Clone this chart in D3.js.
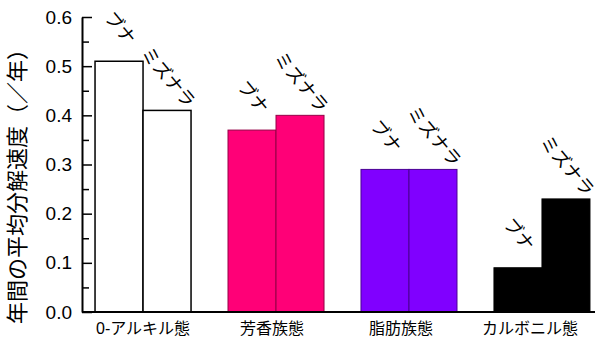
<!DOCTYPE html>
<html>
<head>
<meta charset="utf-8">
<script src="https://cdn.jsdelivr.net/npm/d3@7"></script>
<style>
  body { margin: 0; background: #fff; }
  text { font-family: Arial, "Liberation Sans", "Noto Sans CJK JP", sans-serif; }
</style>
</head>
<body>
<div id="chart-area"></div>
<script>
// data
var categories = ["0-アルキル態", "芳香族態", "脂肪族態", "カルボニル態"];
var seriesNames = ["ブナ", "ミズナラ"];
var buna = [0.51, 0.37, 0.29, 0.09];
var mizunara = [0.41, 0.40, 0.29, 0.23];
var groupColors = ["#ffffff", "#ff0077", "#8000ff", "#000000"];
var yTicks = [0, 0.1, 0.2, 0.3, 0.4, 0.5, 0.6];
var yMinorTicks = [0.05, 0.15, 0.25, 0.35, 0.45, 0.55];

var margin = {left: 82, right: 5, top: 17, bottom: 52};
var width = 600 - margin.left - margin.right;
var height = 364 - margin.top - margin.bottom;

var svg = d3.select("#chart-area")
  .append("svg")
    .attr("width", 600)
    .attr("height", 364);

var g = svg.append("g")
    .attr("transform", "translate(" + margin.left + ", " + margin.top + ")");

var x = d3.scaleBand()
    .domain(categories)
    .range([0, 521])
    .paddingInner(0.278)
    .paddingOuter(0.098);

var xSub = d3.scaleBand()
    .domain(seriesNames)
    .range([0, x.bandwidth()]);

var y = d3.scaleLinear()
    .domain([0, 0.6])
    .range([height, 0]);

var rows = [];
categories.forEach((c, i) => {
    rows.push({cat: c, series: "ブナ", value: buna[i], color: groupColors[i]});
    rows.push({cat: c, series: "ミズナラ", value: mizunara[i], color: groupColors[i]});
});

g.selectAll("rect.bar").data(rows)
  .enter()
  .append("rect")
    .attr("class", "bar")
    .attr("x", (d) => x(d.cat) + xSub(d.series))
    .attr("y", (d) => y(d.value))
    .attr("width", xSub.bandwidth())
    .attr("height", (d) => height - y(d.value))
    .attr("fill", (d) => d.color)
    .attr("stroke", (d) => d.color == "#ffffff" ? "#000" : d3.color(d.color).darker(1.5))
    .attr("stroke-width", (d) => d.color == "#ffffff" ? 1.5 : 1);

// rotated series labels above bars
g.selectAll("text.series").data(rows)
  .enter()
  .append("text")
    .attr("class", "series")
    .attr("text-anchor", "middle")
    .attr("dominant-baseline", "central")
    .attr("font-size", "18px")
    .attr("transform", (d) => {
        var cx = x(d.cat) + xSub(d.series) + xSub.bandwidth() / 2 + 1;
        var cy = y(d.value) - 33;
        return "translate(" + cx + "," + cy + ") rotate(50)";
    })
    .text((d) => d.series);

// y axis, ticks pointing inward
var yAxisCall = d3.axisLeft(y)
    .tickValues(yTicks)
    .tickSizeInner(-10)
    .tickSizeOuter(0)
    .tickPadding(10)
    .tickFormat(d3.format(".1f"));
var yAxis = g.append("g")
    .attr("class", "left axis")
    .call(yAxisCall);
yAxis.select(".domain").attr("stroke-width", 2);
yAxis.selectAll(".tick line").attr("stroke-width", 1.5);
yAxis.selectAll("text")
    .attr("font-size", "19px")
    .attr("fill", "#000");

var yMinor = g.append("g")
    .attr("class", "left minor axis")
    .call(d3.axisLeft(y).tickValues(yMinorTicks).tickSizeInner(-7).tickSizeOuter(0).tickFormat(""));
yMinor.select(".domain").remove();
yMinor.selectAll(".tick line").attr("stroke-width", 1.5);

// x axis
var xAxis = g.append("g")
    .attr("class", "bottom axis")
    .attr("transform", "translate(0, " + height + ")")
    .call(d3.axisBottom(x).tickSize(0).tickPadding(11));
xAxis.select(".domain").remove();
xAxis.append("line")
    .attr("x1", 0)
    .attr("x2", width)
    .attr("stroke", "#000")
    .attr("stroke-width", 2);
xAxis.selectAll("text")
    .attr("font-size", "16px")
    .attr("fill", "#000")
    .attr("dx", (d, i) => -4 * i);

g.append("text")
    .attr("class", "y axis-label")
    .attr("x", -164)
    .attr("y", -65)
    .attr("font-size", "22px")
    .attr("text-anchor", "middle")
    .attr("dominant-baseline", "central")
    .attr("transform", "rotate(-90)")
    .text("年間の平均分解速度（／年）");
</script>
</body>
</html>
